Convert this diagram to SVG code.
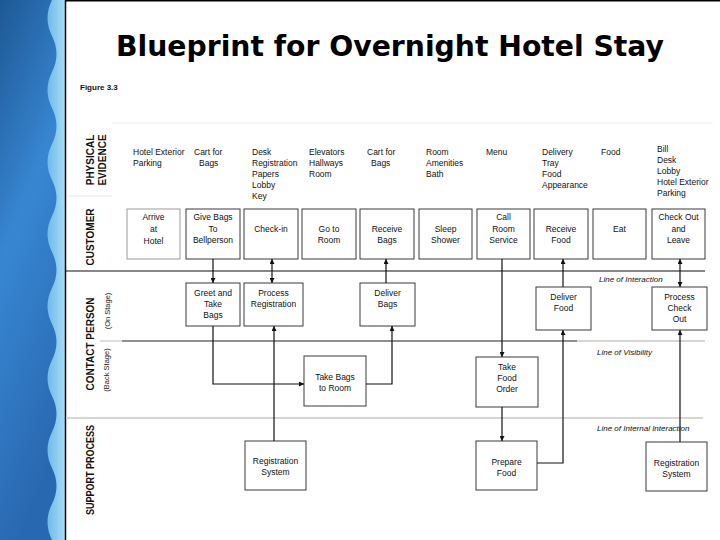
<svg xmlns="http://www.w3.org/2000/svg" width="720" height="540" viewBox="0 0 720 540">
<defs>
<linearGradient id="bg" x1="0" y1="0" x2="0.3" y2="1">
<stop offset="0" stop-color="#1d5894"/>
<stop offset="0.45" stop-color="#3886d2"/>
<stop offset="1" stop-color="#2868b0"/>
</linearGradient>
<linearGradient id="band" x1="0" y1="0" x2="1" y2="0">
<stop offset="0" stop-color="#6fbbe8"/>
<stop offset="1" stop-color="#a8def8"/>
</linearGradient>
<marker id="ah" viewBox="0 0 6 6" refX="6" refY="3" markerWidth="5" markerHeight="5" markerUnits="userSpaceOnUse" orient="auto-start-reverse">
<path d="M0,0 L6,3 L0,6 z" fill="#111"/>
</marker>
<style>
.box{fill:#fff;stroke:#3a3a3a;stroke-width:1}
.lb{fill:#fff;stroke:#9a9a9a;stroke-width:1}
.t{font-family:"Liberation Sans",Arial,sans-serif;font-size:8.5px;fill:#111}
.c{text-anchor:middle}
.lane{font-family:"Liberation Sans",Arial,sans-serif;font-size:10px;font-weight:bold;fill:#111;text-anchor:middle}
.sub{font-family:"Liberation Sans",Arial,sans-serif;font-size:7.5px;fill:#222;text-anchor:middle}
.li{font-family:"Liberation Sans",Arial,sans-serif;font-size:8px;font-style:italic;fill:#111}
.con{fill:none;stroke:#111;stroke-width:1.2}
</style>
</defs>
<rect x="0" y="0" width="720" height="540" fill="#fff"/>
<rect x="0" y="0" width="66" height="540" fill="url(#bg)"/>
<path d="M66,0 L52,0 C46,12 46,24 52,36 C58,48 58,60 52,72 C46,84 46,96 52,108 C58,120 58,132 52,144 C46,156 46,168 52,180 C58,192 58,204 52,216 C46,228 46,240 52,252 C58,264 58,276 52,288 C46,300 46,312 52,324 C58,336 58,348 52,360 C46,372 46,384 52,396 C58,408 58,420 52,432 C46,444 46,456 52,468 C58,480 58,492 52,504 C46,516 46,528 52,540 L66,540 Z" fill="url(#band)"/>
<line x1="65.5" y1="0" x2="65.5" y2="540" stroke="#000" stroke-width="1.5"/>
<line x1="65" y1="0.75" x2="720" y2="0.75" stroke="#000" stroke-width="1.5"/>
<text x="390" y="56" text-anchor="middle" font-family="DejaVu Sans,Verdana,sans-serif" font-weight="bold" font-size="29" textLength="548" lengthAdjust="spacingAndGlyphs" fill="#000">Blueprint for Overnight Hotel Stay</text>
<text x="80" y="90" font-family="Liberation Sans,Arial,sans-serif" font-weight="bold" font-size="8" fill="#111">Figure 3.3</text>
<g id="lines">
<line x1="112" y1="123" x2="713" y2="123" stroke="#eeeeee" stroke-width="1"/>
<line x1="68" y1="196" x2="112" y2="196" stroke="#e6e6e6" stroke-width="1"/>
<line x1="66" y1="271" x2="705" y2="271" stroke="#111" stroke-width="1.2"/>
<line x1="100" y1="341" x2="122" y2="341" stroke="#bbbbbb" stroke-width="1"/>
<line x1="122" y1="341" x2="577" y2="341" stroke="#222" stroke-width="1.2"/>
<line x1="577" y1="341" x2="705" y2="341" stroke="#c8c8c8" stroke-width="1.5"/>
<line x1="66" y1="418" x2="703" y2="418" stroke="#d6d6d6" stroke-width="2"/>
<text class="li" x="599" y="282">Line of Interaction</text>
<text class="li" x="597" y="355">Line of Visibility</text>
<text class="li" x="597" y="431">Line of Internal Interaction</text>
</g>
<g id="lanes">
<text class="lane" transform="translate(94,160) rotate(-90)">PHYSICAL</text>
<text class="lane" transform="translate(106,160) rotate(-90)">EVIDENCE</text>
<text class="lane" transform="translate(94,237) rotate(-90)">CUSTOMER</text>
<text class="lane" transform="translate(94,344) rotate(-90)">CONTACT PERSON</text>
<text class="sub" transform="translate(110,311) rotate(-90)">(On Stage)</text>
<text class="sub" transform="translate(109,370) rotate(-90)">(Back Stage)</text>
<text class="lane" transform="translate(94,470) rotate(-90)" textLength="90" lengthAdjust="spacingAndGlyphs">SUPPORT PROCESS</text>
</g>
<g id="physical-evidence" class="t">
<text x="133" y="155">Hotel Exterior</text><text x="133" y="166">Parking</text>
<text x="194" y="155">Cart for</text><text x="199" y="166">Bags</text>
<text x="252" y="155">Desk</text><text x="252" y="166">Registration</text><text x="252" y="177">Papers</text><text x="252" y="188">Lobby</text><text x="252" y="199">Key</text>
<text x="309" y="155">Elevators</text><text x="309" y="166">Hallways</text><text x="309" y="177">Room</text>
<text x="367" y="155">Cart for</text><text x="371" y="166">Bags</text>
<text x="426" y="155">Room</text><text x="426" y="166">Amenities</text><text x="426" y="177">Bath</text>
<text x="486" y="155">Menu</text>
<text x="542" y="155">Delivery</text><text x="542" y="166">Tray</text><text x="542" y="177">Food</text><text x="542" y="188">Appearance</text>
<text x="601" y="155">Food</text>
<text x="657" y="152">Bill</text><text x="657" y="163">Desk</text><text x="657" y="174">Lobby</text><text x="657" y="185">Hotel Exterior</text><text x="657" y="196">Parking</text>
</g>
<g id="arrive"><rect class="lb" x="127" y="209" width="53" height="50"/><text class="t c" x="153.5" y="220">Arrive</text><text class="t c" x="153.5" y="232">at</text><text class="t c" x="153.5" y="244">Hotel</text></g>
<g id="give-bags"><rect class="box" x="186" y="209" width="54" height="50"/><text class="t c" x="213" y="220">Give Bags</text><text class="t c" x="213" y="232">To</text><text class="t c" x="213" y="243">Bellperson</text></g>
<g id="check-in"><rect class="box" x="244" y="209" width="54" height="50"/><text class="t c" x="271" y="232">Check-in</text></g>
<g id="go-to-room"><rect class="box" x="302" y="209" width="54" height="50"/><text class="t c" x="329" y="232">Go to</text><text class="t c" x="329" y="243">Room</text></g>
<g id="receive-bags"><rect class="box" x="360" y="209" width="54" height="50"/><text class="t c" x="387" y="232">Receive</text><text class="t c" x="387" y="243">Bags</text></g>
<g id="sleep"><rect class="box" x="419" y="209" width="53" height="50"/><text class="t c" x="445.5" y="232">Sleep</text><text class="t c" x="445.5" y="243">Shower</text></g>
<g id="call-room-service"><rect class="box" x="477" y="209" width="53" height="50"/><text class="t c" x="503.5" y="220">Call</text><text class="t c" x="503.5" y="232">Room</text><text class="t c" x="503.5" y="243">Service</text></g>
<g id="receive-food"><rect class="box" x="534" y="209" width="54" height="50"/><text class="t c" x="561" y="232">Receive</text><text class="t c" x="561" y="243">Food</text></g>
<g id="eat"><rect class="box" x="593" y="209" width="53" height="50"/><text class="t c" x="619.5" y="232">Eat</text></g>
<g id="check-out"><rect class="box" x="652" y="209" width="53" height="50"/><text class="t c" x="678.5" y="220">Check Out</text><text class="t c" x="678.5" y="232">and</text><text class="t c" x="678.5" y="243">Leave</text></g>
<g id="greet"><rect class="box" x="186" y="283" width="54" height="43"/><text class="t c" x="213" y="296">Greet and</text><text class="t c" x="213" y="307">Take</text><text class="t c" x="213" y="318">Bags</text></g>
<g id="process-registration"><rect class="box" x="244" y="283" width="59" height="43"/><text class="t c" x="273.5" y="296">Process</text><text class="t c" x="273.5" y="307">Registration</text></g>
<g id="deliver-bags"><rect class="box" x="360" y="283" width="55" height="43"/><text class="t c" x="387.5" y="296">Deliver</text><text class="t c" x="387.5" y="307">Bags</text></g>
<g id="deliver-food"><rect class="box" x="536" y="287" width="55" height="43"/><text class="t c" x="563.5" y="300">Deliver</text><text class="t c" x="563.5" y="311">Food</text></g>
<g id="process-check-out"><rect class="box" x="652" y="287" width="55" height="43"/><text class="t c" x="679.5" y="300">Process</text><text class="t c" x="679.5" y="311">Check</text><text class="t c" x="679.5" y="322">Out</text></g>
<g id="take-bags"><rect class="box" x="304" y="356" width="62" height="50"/><text class="t c" x="335" y="380">Take Bags</text><text class="t c" x="335" y="391">to Room</text></g>
<g id="take-food-order"><rect class="box" x="476" y="357" width="62" height="50"/><text class="t c" x="507" y="370">Take</text><text class="t c" x="507" y="381">Food</text><text class="t c" x="507" y="392">Order</text></g>
<g id="registration-system-1"><rect class="box" x="245" y="441" width="61" height="49"/><text class="t c" x="275.5" y="464">Registration</text><text class="t c" x="275.5" y="475">System</text></g>
<g id="prepare-food"><rect class="box" x="476" y="441" width="61" height="49"/><text class="t c" x="506.5" y="465">Prepare</text><text class="t c" x="506.5" y="476">Food</text></g>
<g id="registration-system-2"><rect class="box" x="646" y="442" width="61" height="49"/><text class="t c" x="676.5" y="466">Registration</text><text class="t c" x="676.5" y="477">System</text></g>
<g id="connectors">
<path class="con" d="M213,259 V283" marker-end="url(#ah)"/>
<path class="con" d="M272,259 V283" marker-start="url(#ah)" marker-end="url(#ah)"/>
<path class="con" d="M213,326 V384 H304" marker-end="url(#ah)"/>
<path class="con" d="M274,441 V326" marker-end="url(#ah)"/>
<path class="con" d="M366,384 H392 V326" marker-end="url(#ah)"/>
<path class="con" d="M386,283 V259" marker-end="url(#ah)"/>
<path class="con" d="M502,259 V357" marker-end="url(#ah)"/>
<path class="con" d="M502,407 V441" marker-end="url(#ah)"/>
<path class="con" d="M537,463 H563 V330" marker-end="url(#ah)"/>
<path class="con" d="M563,287 V259" marker-end="url(#ah)"/>
<path class="con" d="M680,259 V287" marker-start="url(#ah)" marker-end="url(#ah)"/>
<path class="con" d="M680,442 V330" marker-end="url(#ah)"/>
</g>
</svg>
